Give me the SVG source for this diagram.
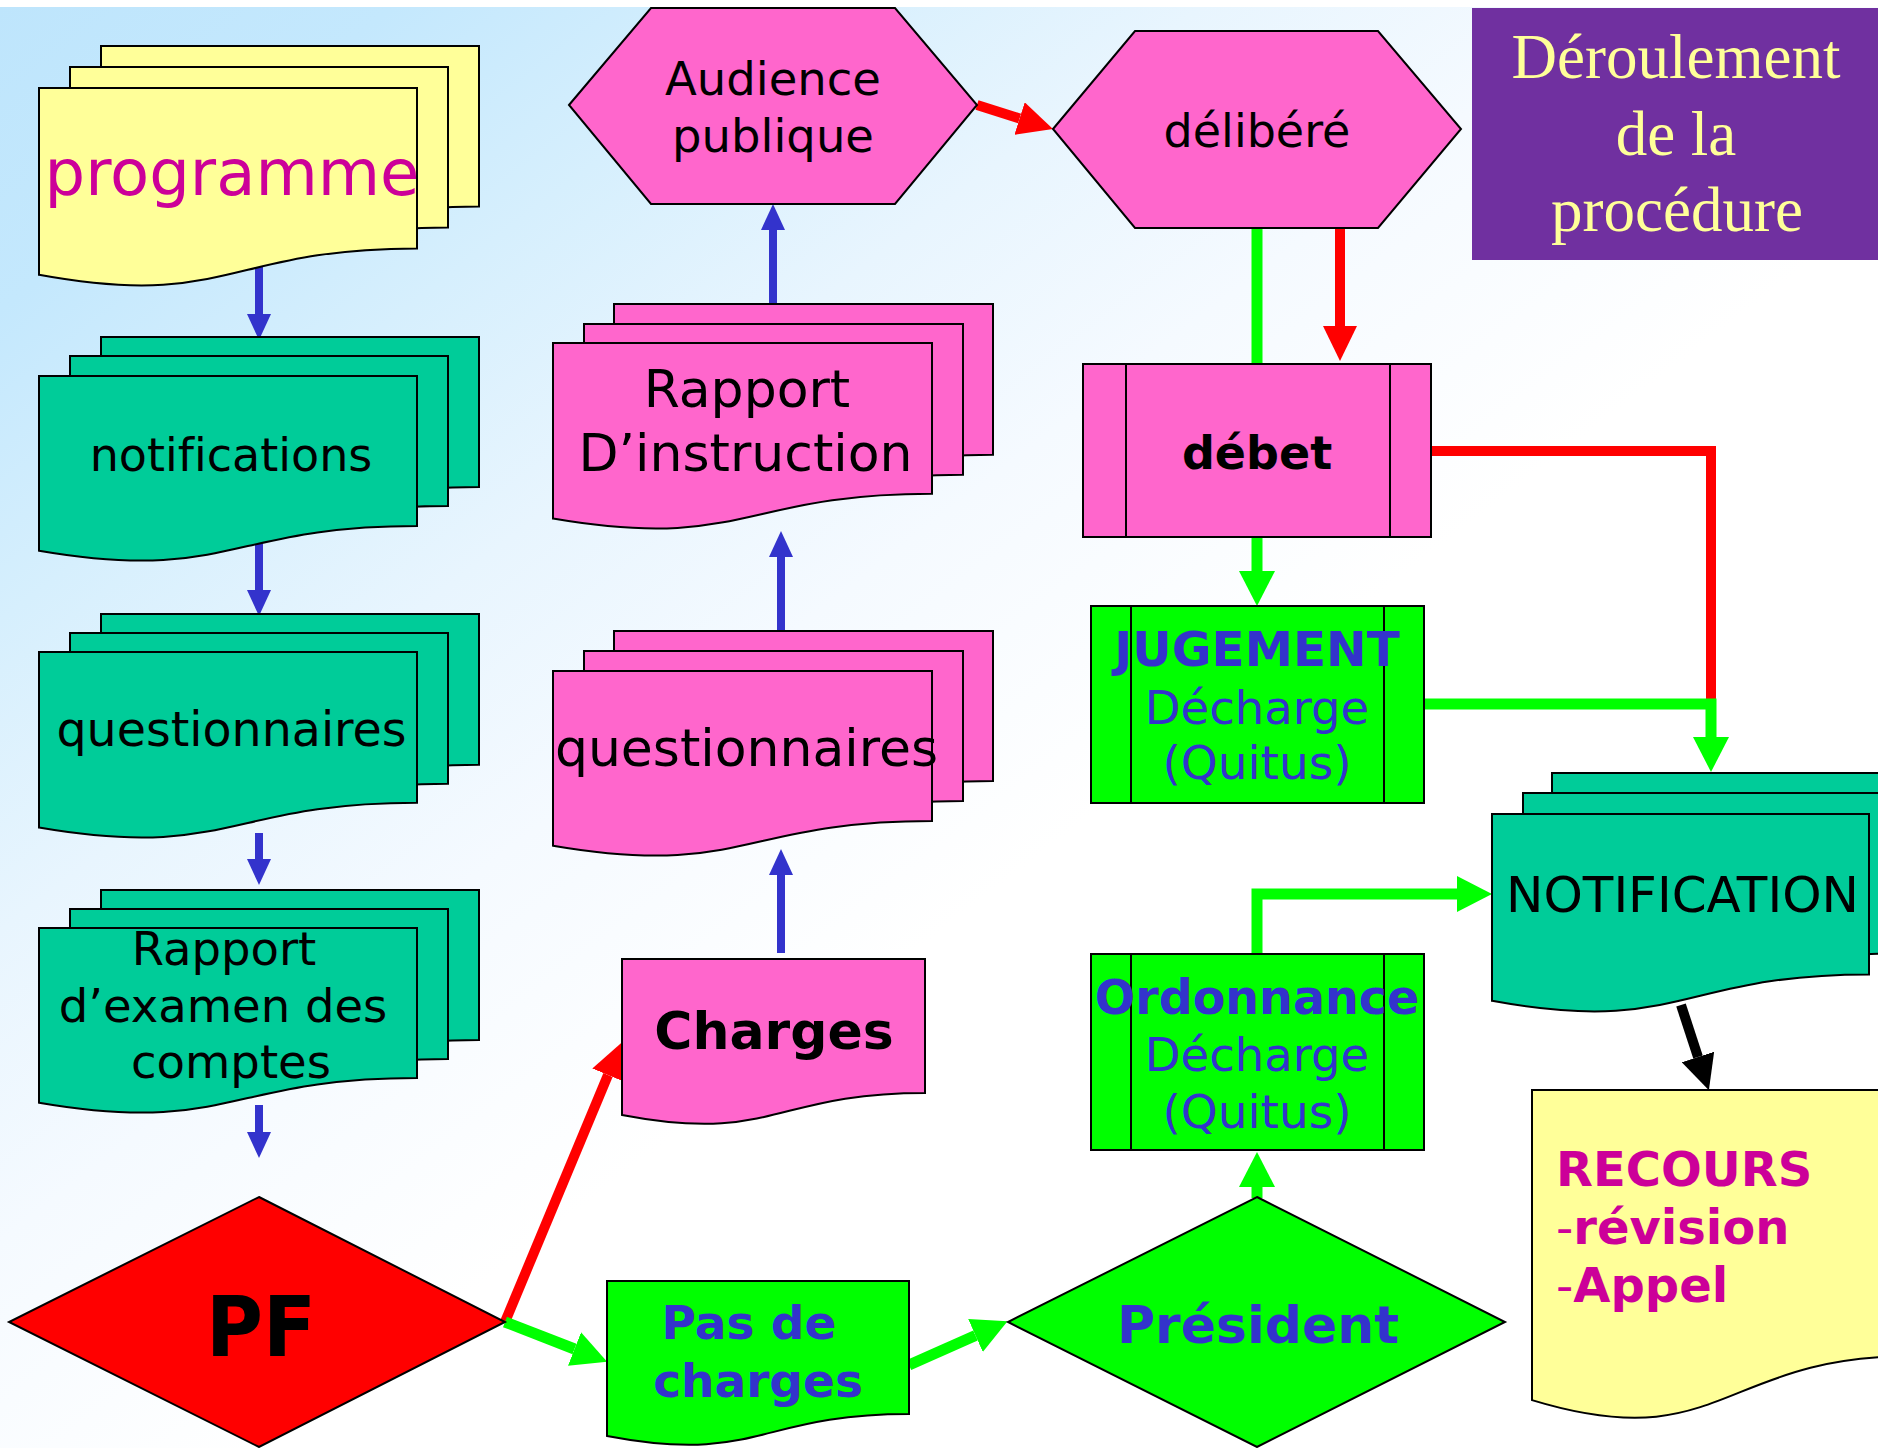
<svg xmlns="http://www.w3.org/2000/svg" width="1878" height="1448" viewBox="0 0 1878 1448">
  <defs>
    <linearGradient id="bg" gradientUnits="userSpaceOnUse" x1="0" y1="0" x2="1000" y2="1300">
      <stop offset="0" stop-color="#bee5fc"/>
      <stop offset="0.15" stop-color="#c4e8fd"/>
      <stop offset="0.3" stop-color="#d6effd"/>
      <stop offset="0.45" stop-color="#e8f5fe"/>
      <stop offset="0.6" stop-color="#f5faff"/>
      <stop offset="0.8" stop-color="#ffffff"/>
    </linearGradient>
    <marker id="ah-blue" markerUnits="userSpaceOnUse" viewBox="0 0 26 24" markerWidth="26" markerHeight="24" refX="0" refY="12" orient="auto">
      <path d="M0,0 L26,12 L0,24 Z" fill="#3333cc"/>
    </marker>
    <marker id="ah-red" markerUnits="userSpaceOnUse" viewBox="0 0 35 34" markerWidth="35" markerHeight="34" refX="0" refY="17" orient="auto">
      <path d="M0,0 L35,17 L0,34 Z" fill="#ff0000"/>
    </marker>
    <marker id="ah-green" markerUnits="userSpaceOnUse" viewBox="0 0 35 36" markerWidth="35" markerHeight="36" refX="0" refY="18" orient="auto">
      <path d="M0,0 L35,18 L0,36 Z" fill="#00ff00"/>
    </marker>
    <marker id="ah-black" markerUnits="userSpaceOnUse" viewBox="0 0 35 34" markerWidth="35" markerHeight="34" refX="0" refY="17" orient="auto">
      <path d="M0,0 L35,17 L0,34 Z" fill="#000000"/>
    </marker>
    <style>
      .sh { stroke: #000; stroke-width: 2; stroke-linejoin: miter; }
      .yellow { fill: #ffff99; }
      .teal { fill: #00cc99; }
      .pink { fill: #ff66cc; }
      .green { fill: #00ff00; }
      .red { fill: #ff0000; }
      .bar { stroke: #000; stroke-width: 2; fill: none; }
      .t { font-family: "DejaVu Sans", Verdana, sans-serif; text-anchor: middle; fill: #000; font-variant-ligatures: none; }
      .ts { text-anchor: start; }
      .b { font-weight: bold; }
      .tblue { fill: #3333cc; }
      .tmag { fill: #cc0099; }
      .title { font-family: "Liberation Serif", "Times New Roman", serif; font-size: 63px; fill: #ffff99; text-anchor: middle; }
      .c { fill: none; stroke-linejoin: miter; }
      .cb { stroke: #3333cc; stroke-width: 8; marker-end: url(#ah-blue); }
      .cr { stroke: #ff0000; stroke-width: 10; }
      .cg { stroke: #00ff00; stroke-width: 11; }
      .ck { stroke: #000000; stroke-width: 10; marker-end: url(#ah-black); }
      .mr { marker-end: url(#ah-red); }
      .mg { marker-end: url(#ah-green); }
    </style>
  </defs>

  <!-- backdrop -->
  <rect x="0" y="0" width="1878" height="1448" fill="#ffffff"/>
  <rect x="0" y="7" width="1878" height="1441" fill="url(#bg)"/>

  <!-- connectors -->
  <g id="connectors">
    <!-- left column, downward -->
    <path class="c cb" d="M259,266 V314"/>
    <path class="c cb" d="M259,544 V590"/>
    <path class="c cb" d="M259,833 V859"/>
    <path class="c cb" d="M259,1105 V1132"/>
    <!-- middle column, upward -->
    <path class="c cb" d="M781,953 V875"/>
    <path class="c cb" d="M781,633 V557"/>
    <path class="c cb" d="M773,305 V230"/>
    <!-- red path -->
    <path class="c cr mr" d="M977,105 L1019.6,118.5"/>
    <path class="c cr mr" d="M1340,228 V326"/>
    <path class="c cr mr" d="M505,1322 L608,1075"/>
    <path class="c cr" d="M1431,451 H1711 V699"/>
    <!-- green path -->
    <path class="c cg" d="M1257,228 V364"/>
    <path class="c cg mg" d="M1257,537 V571"/>
    <path class="c cg mg" d="M1424,704 H1711 V737"/>
    <path class="c cg mg" d="M505,1322 L574.5,1349"/>
    <path class="c cg mg" d="M909,1365 L975.5,1335.5"/>
    <path class="c cg mg" d="M1257,1198 V1187"/>
    <path class="c cg mg" d="M1257,954 V894 H1457"/>
    <!-- appeal -->
    <path class="c ck" d="M1681,1005 L1698,1057"/>
  </g>

  <!-- programme (stack of documents) -->
  <g id="programme">
    <path class="sh yellow" d="M101,46 H479 V206.4 C290,206.4 290,267.5 101,232.8 Z"/>
    <path class="sh yellow" d="M70,67 H448 V227.4 C259,227.4 259,288.5 70,253.8 Z"/>
    <path class="sh yellow" d="M39,88 H417 V248.4 C228,248.4 228,309.5 39,274.8 Z"/>
    <text class="t tmag" x="232" y="195" font-size="64">programme</text>
  </g>

  <g id="notifications">
    <path class="sh teal" d="M101,337 H479 V487 C290,487 290,544.1 101,511.7 Z"/>
    <path class="sh teal" d="M70,356 H448 V506 C259,506 259,563.1 70,530.7 Z"/>
    <path class="sh teal" d="M39,376 H417 V526 C228,526 228,583.1 39,550.7 Z"/>
    <text class="t" x="231" y="471" font-size="46">notifications</text>
  </g>

  <g id="questionnaires-left">
    <path class="sh teal" d="M101,614 H479 V764.8 C290,764.8 290,822.2 101,789.6 Z"/>
    <path class="sh teal" d="M70,633 H448 V783.8 C259,783.8 259,841.2 70,808.6 Z"/>
    <path class="sh teal" d="M39,652 H417 V802.8 C228,802.8 228,860.2 39,827.6 Z"/>
    <text class="t" x="231.5" y="746" font-size="47.5">questionnaires</text>
  </g>

  <g id="rapport-examen">
    <path class="sh teal" d="M101,890 H479 V1040 C290,1040 290,1097.1 101,1064.7 Z"/>
    <path class="sh teal" d="M70,909 H448 V1059 C259,1059 259,1116.1 70,1083.7 Z"/>
    <path class="sh teal" d="M39,928 H417 V1078 C228,1078 228,1135.1 39,1102.7 Z"/>
    <text class="t" x="224" y="965" font-size="46.5">Rapport</text>
    <text class="t" x="223" y="1022" font-size="46.5">d’examen des</text>
    <text class="t" x="231" y="1078" font-size="46.5">comptes</text>
  </g>

  <g id="pf">
    <polygon class="sh red" points="259,1197 505,1322 259,1447 9,1322"/>
    <text class="t b" x="261" y="1356" font-size="84" textLength="110" lengthAdjust="spacingAndGlyphs">PF</text>
  </g>

  <g id="audience-publique">
    <polygon class="sh pink" points="569,105 651,8 895,8 977,105 895,204 651,204"/>
    <text class="t" x="773" y="95" font-size="46.5">Audience</text>
    <text class="t" x="773" y="152" font-size="46.5">publique</text>
  </g>

  <g id="rapport-instruction">
    <path class="sh pink" d="M614,304 H993 V454.8 C803.5,454.8 803.5,512.2 614,479.6 Z"/>
    <path class="sh pink" d="M584,324 H963 V474.8 C773.5,474.8 773.5,532.2 584,499.6 Z"/>
    <path class="sh pink" d="M553,343 H932 V493.8 C742.5,493.8 742.5,551.2 553,518.6 Z"/>
    <text class="t" x="747" y="407" font-size="52">Rapport</text>
    <text class="t" x="745.5" y="471" font-size="52">D’instruction</text>
  </g>

  <g id="questionnaires-middle">
    <path class="sh pink" d="M614,631 H993 V781 C803.5,781 803.5,838.1 614,805.7 Z"/>
    <path class="sh pink" d="M584,651 H963 V801 C773.5,801 773.5,858.1 584,825.7 Z"/>
    <path class="sh pink" d="M553,671 H932 V821 C742.5,821 742.5,878.1 553,845.7 Z"/>
    <text class="t" x="746.5" y="766" font-size="52">questionnaires</text>
  </g>

  <g id="charges">
    <path class="sh pink" d="M622,959 H925 V1092.9 C773.5,1092.9 773.5,1144 622,1115 Z"/>
    <text class="t b" x="774" y="1049" font-size="52">Charges</text>
  </g>

  <g id="pas-de-charges">
    <path class="sh green" d="M607,1281 H909 V1414.1 C758,1414.1 758,1464.8 607,1436 Z"/>
    <text class="t b tblue" x="749" y="1339" font-size="47">Pas de</text>
    <text class="t b tblue" x="758" y="1397" font-size="47">charges</text>
  </g>

  <g id="delibere">
    <polygon class="sh pink" points="1053,129 1135,31 1378,31 1461,129 1378,228 1135,228"/>
    <text class="t" x="1257" y="147" font-size="46">délibéré</text>
  </g>

  <g id="debet">
    <rect class="sh pink" x="1083" y="364" width="348" height="173"/>
    <path class="bar" d="M1126,364 V537 M1390,364 V537"/>
    <text class="t b" x="1257" y="469" font-size="46">débet</text>
  </g>

  <g id="jugement">
    <rect class="sh green" x="1091" y="606" width="333" height="197"/>
    <path class="bar" d="M1131,606 V803 M1384,606 V803"/>
    <text class="t b tblue" x="1257" y="666" font-size="48.5">JUGEMENT</text>
    <text class="t tblue" x="1257" y="724" font-size="46.5">Décharge</text>
    <text class="t tblue" x="1257" y="779" font-size="47">(Quitus)</text>
  </g>

  <g id="ordonnance">
    <rect class="sh green" x="1091" y="954" width="333" height="196"/>
    <path class="bar" d="M1131,954 V1150 M1384,954 V1150"/>
    <text class="t b tblue" x="1257" y="1014" font-size="47.5">Ordonnance</text>
    <text class="t tblue" x="1257" y="1071" font-size="46.5">Décharge</text>
    <text class="t tblue" x="1257" y="1128" font-size="47">(Quitus)</text>
  </g>

  <g id="president">
    <polygon class="sh green" points="1257,1197 1505,1322 1257,1447 1008,1322"/>
    <text class="t b tblue" x="1258" y="1343" font-size="52">Président</text>
  </g>

  <g id="notification">
    <path class="sh teal" d="M1552,773 H1929 V933.4 C1740.5,933.4 1740.5,994.5 1552,959.8 Z"/>
    <path class="sh teal" d="M1523,793 H1900 V953.4 C1711.5,953.4 1711.5,1014.5 1523,979.8 Z"/>
    <path class="sh teal" d="M1492,814 H1869 V974.4 C1680.5,974.4 1680.5,1035.5 1492,1000.8 Z"/>
    <text class="t" x="1682.5" y="912" font-size="50">NOTIFICATION</text>
  </g>

  <g id="recours">
    <path class="sh yellow" d="M1532,1090 H1910 V1356.3 C1721,1356.3 1721,1457.7 1532,1400.1 Z"/>
    <text class="t ts b tmag" x="1556" y="1186" font-size="48">RECOURS</text>
    <text class="t ts b tmag" x="1556" y="1244" font-size="48"><tspan font-weight="normal">-</tspan>révision</text>
    <text class="t ts b tmag" x="1556" y="1302" font-size="48"><tspan font-weight="normal">-</tspan>Appel</text>
  </g>

  <g id="title">
    <rect x="1472" y="8" width="406" height="252" fill="#7030a0"/>
    <text class="title" x="1676" y="78">Déroulement</text>
    <text class="title" x="1676" y="155">de la</text>
    <text class="title" x="1677" y="231">procédure</text>
  </g>
</svg>
